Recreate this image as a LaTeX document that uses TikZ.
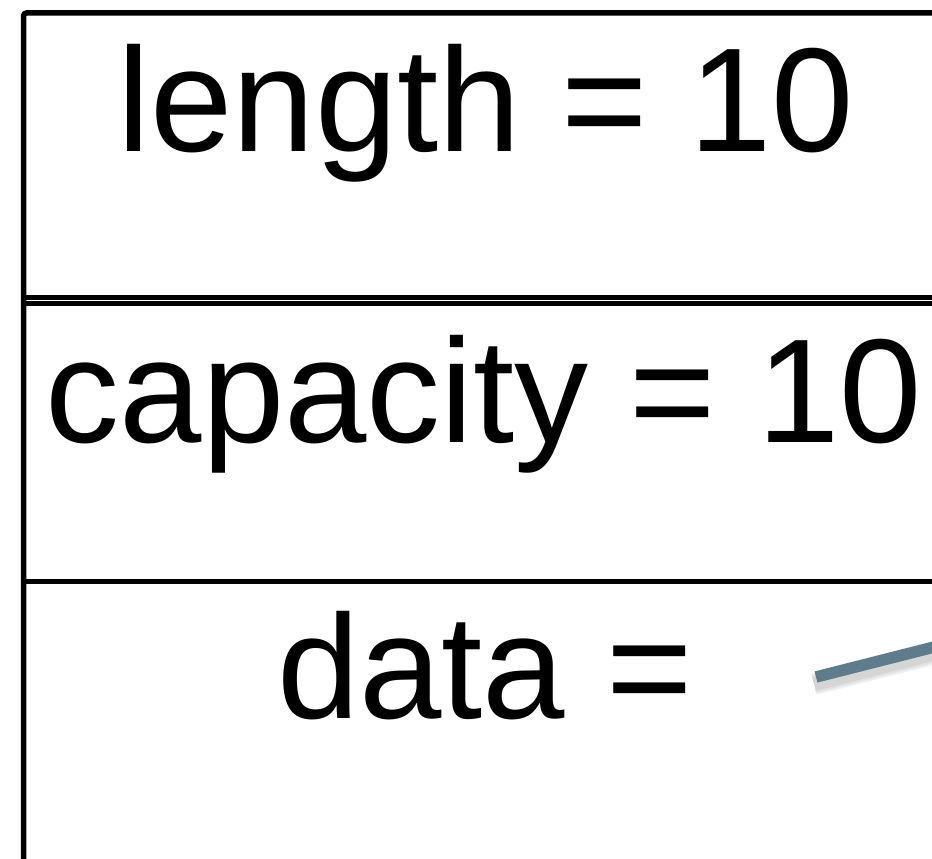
\documentclass[tikz,border=0pt]{standalone}
\usepackage{fontspec}
\setmainfont{Liberation Sans}
\definecolor{ptrcol}{HTML}{5E7C8B}
\begin{document}
\begin{tikzpicture}[x=1pt,y=-1pt,
  frame/.style={line width=5.5pt, draw=black},
  field/.style={anchor=base, inner sep=0pt, font=\fontsize{148}{148}\selectfont},
  pointer/.style={line width=11.5pt, draw=ptrcol},
  ptrshadow/.style={line width=#1, draw=black, opacity=0.06}]
\useasboundingbox (0,0) rectangle (932,859);
\clip (0,0) rectangle (932,859);
% frame
\draw[frame, rounded corners=3pt] (23.5,900) -- (23.5,13) -- (980,13);
\draw[frame] (23.5,297.5) -- (980,297.5);
\draw[frame] (23.5,303.5) -- (980,303.5);
\draw[frame] (23.5,581.5) -- (980,581.5);
% texts
\node[field] (len) at (486,151) {length = 10};
\node[field] (cap) at (484,442) {capacity = 10};
\node[field] (dat) at (485,718) {data =};
% pointer
\coordinate (ps) at (816,677);
\coordinate (pe) at (1000,630.3);
\foreach \w in {22,18,14}{
  \draw[ptrshadow=\w pt] ([shift={(-2,7)}]ps) -- ([shift={(-2,7)}]pe);
}
\draw[pointer] (ps) -- (pe);
\end{tikzpicture}
\end{document}
